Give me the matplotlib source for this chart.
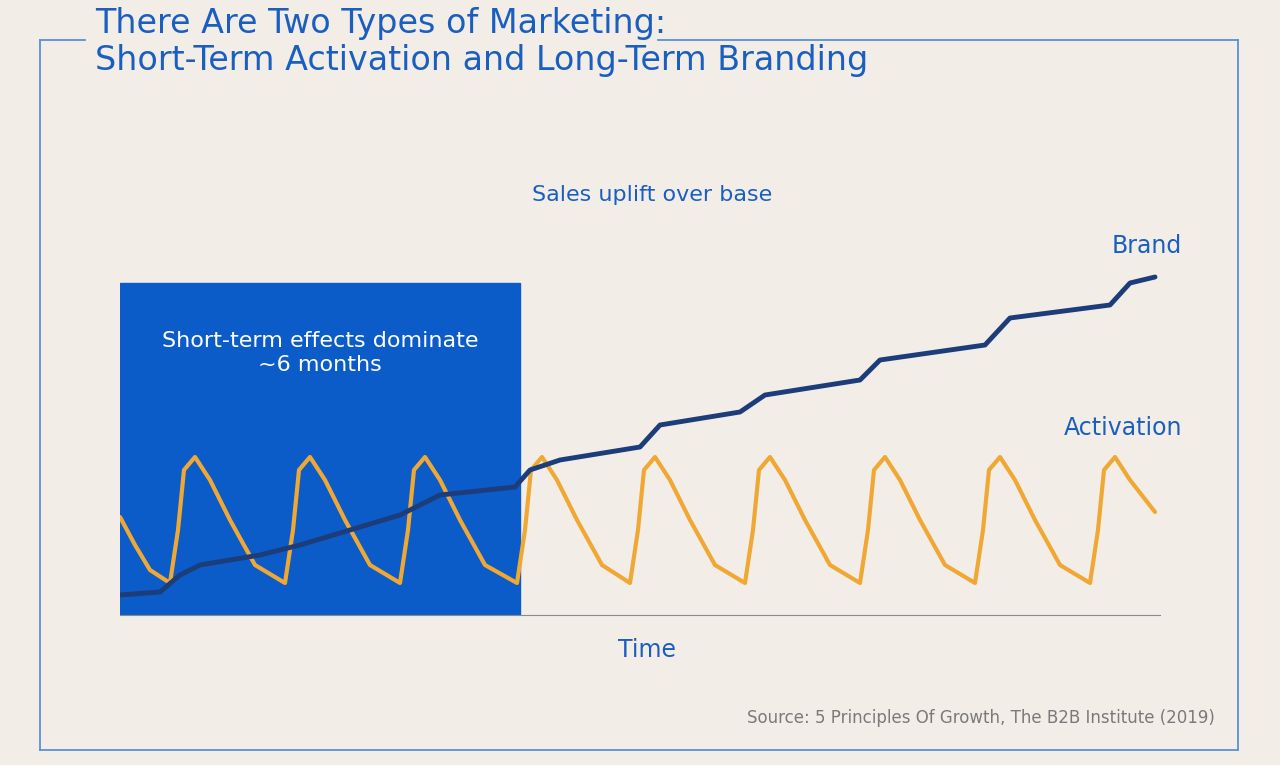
import matplotlib.pyplot as plt
from matplotlib.lines import Line2D
from matplotlib.patches import Rectangle

# values: time (0..1040) and uplift (0..345)
brand_t = [0, 40, 60, 80, 140, 180, 230, 280, 320, 395, 410, 440, 520, 540, 620, 645, 740, 760, 865, 890, 990, 1010, 1035]
brand_v = [20, 23, 40, 50, 60, 70, 85, 100, 120, 128, 145, 155, 168, 190, 203, 220, 235, 255, 270, 297, 310, 332, 338]

act_t = [0, 15, 30, 50, 58, 64, 75, 90, 110, 135, 165, 173, 179, 190, 205, 225, 250, 280, 288, 294, 305, 320, 340,
         365, 397, 405, 411, 422, 437, 457, 482, 510, 518, 524, 535, 550, 570, 595, 625, 633, 639, 650, 665, 685,
         710, 740, 748, 754, 765, 780, 800, 825, 855, 863, 869, 880, 895, 915, 940, 970, 978, 984, 995, 1010, 1035]
act_v = [98, 70, 45, 32, 85, 145, 158, 135, 95, 50, 32, 85, 145, 158, 135, 95, 50, 32, 85, 145, 158, 135, 95,
         50, 32, 85, 145, 158, 135, 95, 50, 32, 85, 145, 158, 135, 95, 50, 32, 85, 145, 158, 135, 95,
         50, 32, 85, 145, 158, 135, 95, 50, 32, 85, 145, 158, 135, 95, 50, 32, 85, 145, 158, 135, 103]

bg = "#f3ede8"
blue = "#1a5fc0"
navy = "#1c3d7a"
orange = "#f0a834"

fig = plt.figure(figsize=(12.8, 7.65), dpi=100, facecolor=bg)

# outer frame with a gap for the title
def fl(x0, y0, x1, y1):
    fig.add_artist(Line2D([x0 / 1280, x1 / 1280], [1 - y0 / 765, 1 - y1 / 765], color="#5b8fd6", lw=1.3))

fl(40, 40, 85, 40)
fl(658, 40, 1238, 40)
fl(40, 40, 40, 750)
fl(1238, 40, 1238, 750)
fl(40, 750, 1238, 750)

fig.text(95 / 1280, 1 - 42 / 765, "There Are Two Types of Marketing:\nShort-Term Activation and Long-Term Branding",
         color=blue, fontsize=24, va="center", ha="left", linespacing=1.15, family="DejaVu Sans")

ax = fig.add_axes([120 / 1280, (765 - 615) / 765, 1040 / 1280, 345 / 765])
ax.set_facecolor(bg)
ax.set_xlim(0, 1040)
ax.set_ylim(0, 345)
for s in ["top", "right", "left"]:
    ax.spines[s].set_visible(False)
ax.spines["bottom"].set_color("#8a8a8a")
ax.set_xticks([])
ax.set_yticks([])

ax.add_patch(Rectangle((0, 0), 400, 332, color="#0b5bc9", zorder=1))
ax.text(200, 262, "Short-term effects dominate\n~6 months", color="white", fontsize=16, ha="center", va="center")

ax.plot(act_t, act_v, color=orange, lw=3, solid_joinstyle="round", solid_capstyle="round", zorder=2)
ax.plot(brand_t, brand_v, color=navy, lw=3.5, solid_joinstyle="round", solid_capstyle="round", zorder=3)

ax.text(1062, 369, "Brand", color=blue, fontsize=17, ha="right", va="center", clip_on=False)
ax.text(1062, 187, "Activation", color=blue, fontsize=17, ha="right", va="center", clip_on=False)

fig.text(652 / 1280, 1 - 195 / 765, "Sales uplift over base", color=blue, fontsize=16, ha="center", va="center")
fig.text(647 / 1280, 1 - 650 / 765, "Time", color=blue, fontsize=17, ha="center", va="center")
fig.text(1215 / 1280, 1 - 718 / 765, "Source: 5 Principles Of Growth, The B2B Institute (2019)",
         color="#7a7a7a", fontsize=12, ha="right", va="center")

fig.savefig("out.png", dpi=100, facecolor=bg)
